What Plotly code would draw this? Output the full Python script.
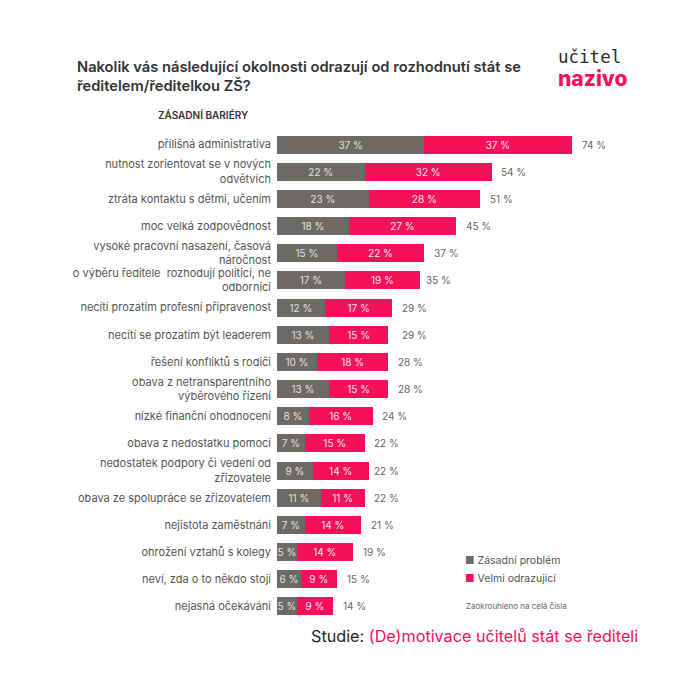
import plotly.graph_objects as go

categories = [
    "přílišná administrativa",
    "nutnost zorientovat se v nových<br>odvětvích",
    "ztráta kontaktu s dětmi, učením",
    "moc velká zodpovědnost",
    "vysoké pracovní nasazení, časová<br>náročnost",
    "o výběru ředitele  rozhodují politici, ne<br>odborníci",
    "necítí prozatím profesní připravenost",
    "necítí se prozatím být leaderem",
    "řešení konfliktů s rodiči",
    "obava z netransparentního<br>výběrového řízení",
    "nízké finanční ohodnocení",
    "obava z nedostatku pomoci",
    "nedostatek podpory či vedení od<br>zřizovatele",
    "obava ze spolupráce se zřizovatelem",
    "nejistota zaměstnání",
    "ohrožení vztahů s kolegy",
    "neví, zda o to někdo stojí",
    "nejasná očekávání",
]
zasadni = [37, 22, 23, 18, 15, 17, 12, 13, 10, 13, 8, 7, 9, 11, 7, 5, 6, 5]
odrazujici = [37, 32, 28, 27, 22, 19, 17, 15, 18, 15, 16, 15, 14, 11, 14, 14, 9, 9]
totals = [74, 54, 51, 45, 37, 35, 29, 29, 28, 28, 24, 22, 22, 22, 21, 19, 15, 14]

GRAY = "#6d6a66"
PINK = "#f5105a"
FONT = "Inter"

# page is offset by the default body margin
OFF = 8
PAGE = 682
W = H = PAGE - OFF
# desired page-pixel positions of the plot area
P_LEFT, P_RIGHT, P_TOP, P_BOTTOM = 277, 675, 131, 620
ML = P_LEFT - OFF
MR = PAGE - P_RIGHT
MT = P_TOP - OFF
MB = PAGE - P_BOTTOM
PW = P_RIGHT - P_LEFT
PH = P_BOTTOM - P_TOP


def px(x):
    return (x - P_LEFT) / PW


def py(y):
    return (P_BOTTOM - y) / PH


fig = go.Figure()
fig.add_trace(go.Bar(
    y=categories, x=zasadni, orientation="h", name="Zásadní problém",
    marker=dict(color=GRAY, line=dict(width=0)), width=0.66,
    texttemplate="%{x} %", textposition="inside", insidetextanchor="middle",
    textfont=dict(color="#e2e2e2", size=10, family=FONT),
    constraintext="none",
))
fig.add_trace(go.Bar(
    y=categories, x=odrazujici, orientation="h", name="Velmi odrazující",
    marker=dict(color=PINK, line=dict(width=0)), width=0.66,
    texttemplate="%{x} %", textposition="inside", insidetextanchor="middle",
    textfont=dict(color="#fde6ee", size=10, family=FONT),
    constraintext="none",
))

annotations = []
for cat, t in zip(categories, totals):
    annotations.append(dict(
        x=t, y=cat, xref="x", yref="y", text=f"{t} %", showarrow=False,
        xanchor="center", xshift=22, font=dict(size=10, color="#666", family=FONT),
    ))

logo = (
    "<span style='font-family:DejaVu Sans Mono;font-size:17.5px;color:#2b2b2b'>učitel</span>"
    f"<br><span style='font-size:21px;font-weight:800;color:{PINK}'>nazivo</span>"
)

annotations += [
    dict(x=px(75), y=py(56), xref="paper", yref="paper", xanchor="left", yanchor="top",
         align="left", showarrow=False,
         text="Nakolik vás následující okolnosti odrazují od rozhodnutí stát se<br>ředitelem/ředitelkou ZŠ?",
         font=dict(size=14.7, color="#333", family=FONT, weight=600)),
    dict(x=px(203), y=py(115), xref="paper", yref="paper", xanchor="center", yanchor="middle",
         showarrow=False, text="ZÁSADNÍ BARIÉRY",
         font=dict(size=10, color="#333", family=FONT, weight=600)),
    dict(x=px(556), y=py(69), xref="paper", yref="paper", xanchor="left", yanchor="middle",
         align="left", showarrow=False, text=logo,
         font=dict(size=18, color="#2b2b2b", family=FONT)),
    dict(x=px(463), y=py(560), xref="paper", yref="paper", xanchor="left", yanchor="middle",
         showarrow=False,
         text=f"<span style='color:{GRAY}'>■</span> Zásadní problém",
         font=dict(size=10.5, color="#555", family=FONT)),
    dict(x=px(463), y=py(578), xref="paper", yref="paper", xanchor="left", yanchor="middle",
         showarrow=False,
         text=f"<span style='color:{PINK}'>■</span> Velmi odrazující",
         font=dict(size=10.5, color="#555", family=FONT)),
    dict(x=px(464), y=py(606), xref="paper", yref="paper", xanchor="left", yanchor="middle",
         showarrow=False, text="Zaokrouhleno na celá čísla",
         font=dict(size=8, color="#666", family=FONT)),
    dict(x=px(309), y=py(636), xref="paper", yref="paper", xanchor="left", yanchor="middle",
         showarrow=False,
         text=f"Studie: <span style='color:{PINK}'>(De)motivace učitelů stát se řediteli</span>",
         font=dict(size=16.2, color="#222", family=FONT)),
]

fig.update_layout(
    width=W, height=H,
    margin=dict(l=ML, r=MR, t=MT, b=MB, pad=0),
    barmode="stack", bargap=0.34,
    plot_bgcolor="white", paper_bgcolor="white",
    showlegend=False,
    font=dict(family=FONT),
    xaxis=dict(range=[0, 100], visible=False, fixedrange=True),
    yaxis=dict(autorange="reversed", showgrid=False, zeroline=False, showline=False,
               ticks="", ticklabelstandoff=5,
               tickfont=dict(size=11, color="#555", family=FONT)),
    annotations=annotations,
)

fig.write_html("out.html")
